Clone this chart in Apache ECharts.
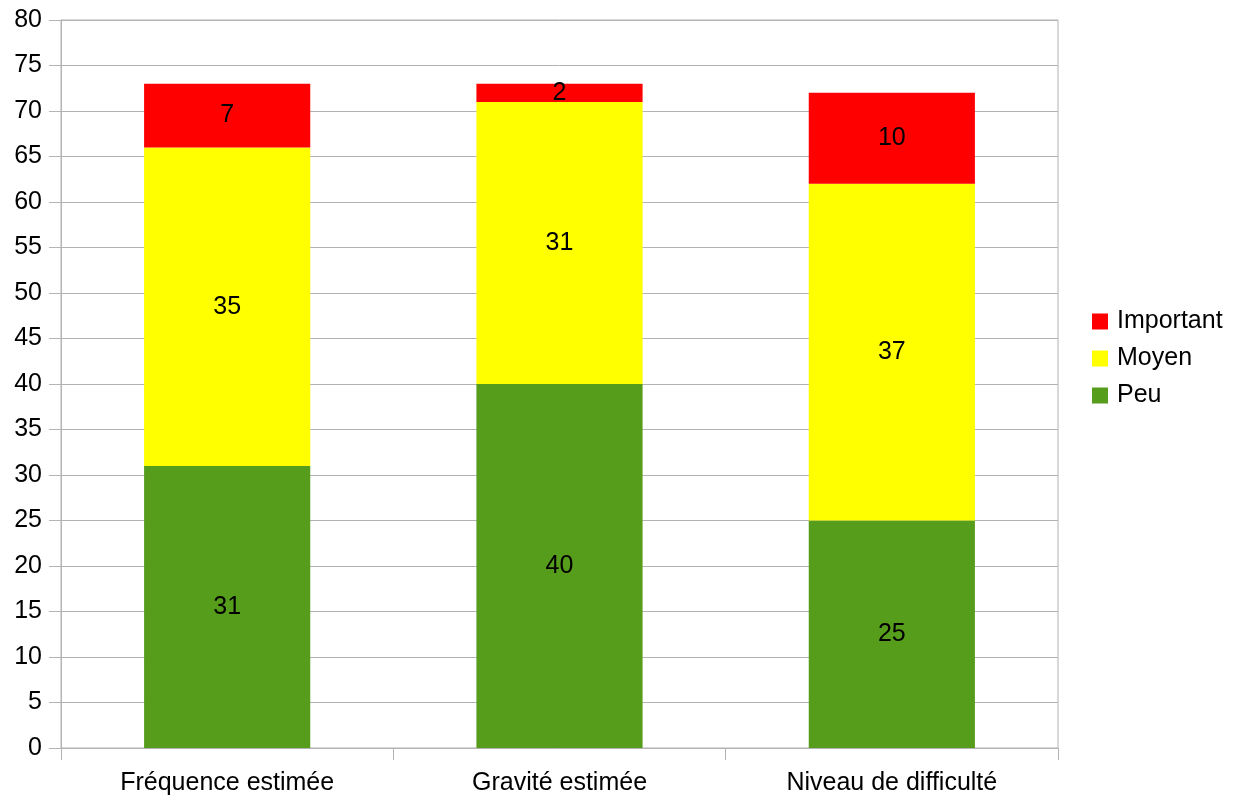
<!DOCTYPE html>
<html>
<head>
<meta charset="utf-8">
<script src="https://cdn.jsdelivr.net/npm/echarts@6/dist/echarts.min.js"></script>
<style>html,body{margin:0;padding:0;background:#fff}#c{width:1237px;height:800px}</style>
</head>
<body>
<div id="c"></div>
<script>
const categories = ['Fréquence estimée', 'Gravité estimée', 'Niveau de difficulté'];
const peu = [31, 40, 25];
const moyen = [35, 31, 37];
const important = [7, 2, 10];
const legendOrder = ['Important', 'Moyen', 'Peu'];

const FONT = '"Liberation Sans", Arial, sans-serif';
const GRIDC = '#b3b3b3';
const chart = echarts.init(document.getElementById('c'), null, {renderer: 'canvas'});
function s(name, data, color) {
  return {
    name, type: 'bar', stack: 'total', data, barWidth: '50%',
    itemStyle: {color},
    label: {show: true, position: 'inside', color: '#000', fontSize: 25, fontFamily: FONT},
    emphasis: {disabled: true}
  };
}
chart.setOption({
  animation: false,
  backgroundColor: '#fff',
  grid: {left: 61, right: 179, top: 20, bottom: 52, show: true, borderColor: GRIDC, borderWidth: 1, backgroundColor: 'transparent'},
  legend: {
    orient: 'vertical', left: 1087, top: 304, data: legendOrder,
    icon: 'rect', itemWidth: 16, itemHeight: 16, itemGap: 12,
    textStyle: {fontSize: 25, fontFamily: FONT, color: '#000', padding: [0, 0, 0, 4]}
  },
  xAxis: {
    type: 'category', data: categories,
    axisLine: {show: true, lineStyle: {color: GRIDC}},
    axisTick: {show: true, length: 12, lineStyle: {color: GRIDC}},
    axisLabel: {fontSize: 25, fontFamily: FONT, color: '#000', margin: 23}
  },
  yAxis: {
    type: 'value', min: 0, max: 80, interval: 5,
    axisLine: {show: true, lineStyle: {color: GRIDC}},
    axisTick: {show: true, length: 12, lineStyle: {color: GRIDC}},
    splitLine: {show: true, lineStyle: {color: GRIDC}},
    axisLabel: {fontSize: 25, fontFamily: FONT, color: '#000', margin: 19}
  },
  series: [
    s('Peu', peu, '#579d1c'),
    s('Moyen', moyen, '#ffff00'),
    s('Important', important, '#ff0000')
  ]
});
</script>
</body>
</html>
